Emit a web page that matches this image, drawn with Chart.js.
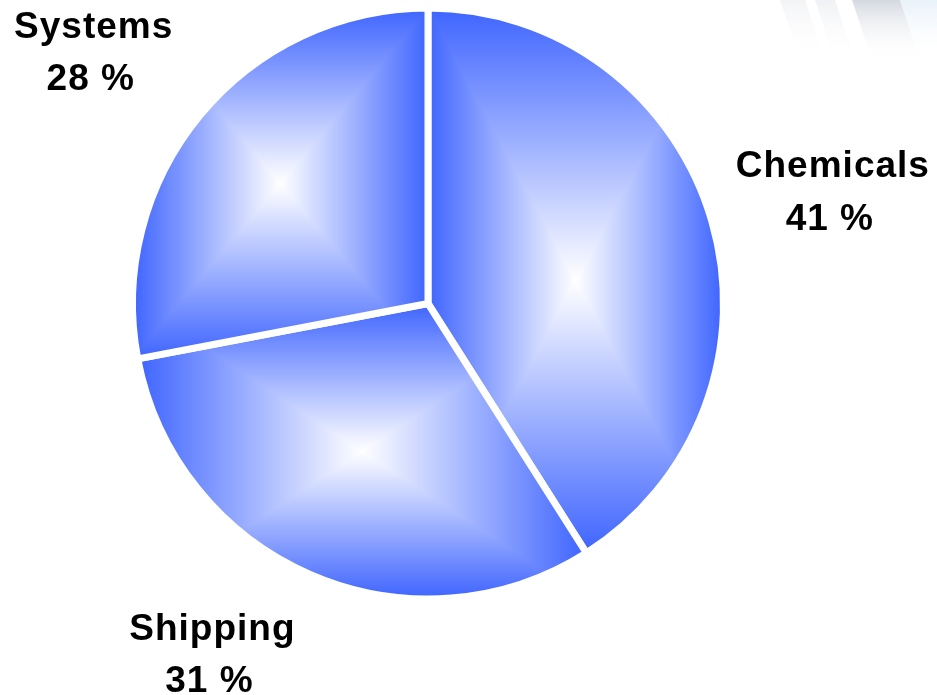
<!DOCTYPE html>
<html>
<head>
<meta charset="utf-8">
<script src="https://cdn.jsdelivr.net/npm/chart.js@4.4.0/dist/chart.umd.min.js"></script>
<style>
  html, body { margin: 0; padding: 0; background: #ffffff; }
  #wrap { width: 937px; height: 695px; position: relative; }
</style>
</head>
<body>
<div id="wrap"><canvas id="c" width="937" height="695"></canvas></div>
<script>
// ---- data ----
const categories = ['Chemicals', 'Shipping', 'Systems'];
const shares = [41, 31, 28];
const shareLabels = ['41 %', '31 %', '28 %'];

// ---- style ----
const EDGE = [62, 100, 255];
const SEP = 7;
const labelAnchors = [[1.354, -0.377], [-0.721, 1.169], [-1.118, -0.844]];
const patternCache = {};

function sliceGeometry(chart, index) {
  const ca = chart.chartArea;
  const cx = (ca.left + ca.right) / 2, cy = (ca.top + ca.bottom) / 2;
  const r = Math.min(ca.right - ca.left, ca.bottom - ca.top) / 2 - SEP / 2;
  const data = chart.data.datasets[0].data;
  const total = data.reduce((a, b) => a + b, 0);
  let a0 = -Math.PI / 2;
  for (let i = 0; i < index; i++) a0 += 2 * Math.PI * data[i] / total;
  const a1 = a0 + 2 * Math.PI * data[index] / total;
  return { cx, cy, r, a0, a1 };
}

function boxOf(g) {
  const pts = [[g.cx, g.cy], [g.cx + g.r * Math.cos(g.a0), g.cy + g.r * Math.sin(g.a0)],
               [g.cx + g.r * Math.cos(g.a1), g.cy + g.r * Math.sin(g.a1)]];
  for (let k = -4; k <= 8; k++) {
    const a = k * Math.PI / 2;
    if (a > g.a0 && a < g.a1) pts.push([g.cx + g.r * Math.cos(a), g.cy + g.r * Math.sin(a)]);
  }
  const xs = pts.map(p => p[0]), ys = pts.map(p => p[1]);
  return { x0: Math.min(...xs), x1: Math.max(...xs), y0: Math.min(...ys), y1: Math.max(...ys) };
}

function slicePattern(context) {
  const chart = context.chart;
  if (!chart.chartArea) return 'rgb(62,100,255)';
  const i = context.dataIndex;
  const g = sliceGeometry(chart, i);
  const key = i + ':' + Math.round(g.cx) + ':' + Math.round(g.cy) + ':' + Math.round(g.r);
  if (patternCache[key]) return patternCache[key];
  const b = boxOf(g);
  const W = chart.canvas.width, H = chart.canvas.height;
  const off = document.createElement('canvas');
  off.width = W; off.height = H;
  const octx = off.getContext('2d');
  const img = octx.createImageData(W, H);
  const mx = (b.x0 + b.x1) / 2, my = (b.y0 + b.y1) / 2;
  const hw = (b.x1 - b.x0) / 2, hh = (b.y1 - b.y0) / 2;
  for (let y = 0; y < H; y++) {
    for (let x = 0; x < W; x++) {
      let t = Math.max(Math.abs(x + 0.5 - mx) / hw, Math.abs(y + 0.5 - my) / hh);
      if (t > 1) t = 1;
      const p = (y * W + x) * 4;
      img.data[p] = Math.round(255 + (EDGE[0] - 255) * t);
      img.data[p + 1] = Math.round(255 + (EDGE[1] - 255) * t);
      img.data[p + 2] = Math.round(255 + (EDGE[2] - 255) * t);
      img.data[p + 3] = 255;
    }
  }
  octx.putImageData(img, 0, 0);
  const pat = chart.ctx.createPattern(off, 'no-repeat');
  patternCache[key] = pat;
  return pat;
}

const decoPlugin = {
  id: 'deco',
  beforeDraw(chart) {
    const ctx = chart.ctx;
    ctx.save();
    const bands = [
      [780, 805, 'rgba(200,205,215,0.22)'],
      [815, 835, 'rgba(200,205,215,0.28)'],
      [852, 900, 'rgba(170,178,192,0.5)'],
      [900, 937, 'rgba(215,230,245,0.55)']
    ];
    bands.forEach(([x0, x1, col]) => {
      const grad = ctx.createLinearGradient(0, 0, 0, 60);
      grad.addColorStop(0, col);
      grad.addColorStop(1, 'rgba(255,255,255,0)');
      ctx.fillStyle = grad;
      ctx.beginPath();
      ctx.moveTo(x0, 0); ctx.lineTo(x1, 0);
      ctx.lineTo(x1 + 20, 60); ctx.lineTo(x0 + 20, 60);
      ctx.closePath();
      ctx.fill();
    });
    ctx.restore();
  }
};

const labelPlugin = {
  id: 'sliceLabels',
  afterDatasetsDraw(chart) {
    const ctx = chart.ctx;
    const meta = chart.getDatasetMeta(0);
    ctx.save();
    ctx.fillStyle = '#000000';
    ctx.font = 'bold 37px "Liberation Sans", Arial, sans-serif';
    ctx.letterSpacing = '1px';
    ctx.textAlign = 'center';
    ctx.textBaseline = 'alphabetic';
    meta.data.forEach((arc, i) => {
      const r = arc.outerRadius + SEP / 2;
      const x = arc.x + labelAnchors[i][0] * r;
      const y = arc.y + labelAnchors[i][1] * r;
      ctx.fillText(chart.data.labels[i], x, y - 13.5);
      ctx.fillText(shareLabels[i], x - 3, y + 39);
    });
    ctx.restore();
  }
};

new Chart(document.getElementById('c'), {
  type: 'pie',
  data: {
    labels: categories,
    datasets: [{
      data: shares,
      backgroundColor: slicePattern,
      borderColor: '#ffffff',
      borderWidth: SEP,
      hoverOffset: 0
    }]
  },
  options: {
    responsive: false,
    animation: false,
    events: [],
    layout: { padding: { left: 129, right: 210, top: 4.5, bottom: 92.5 } },
    plugins: { legend: { display: false }, tooltip: { enabled: false } }
  },
  plugins: [decoPlugin, labelPlugin]
});
</script>
</body>
</html>
